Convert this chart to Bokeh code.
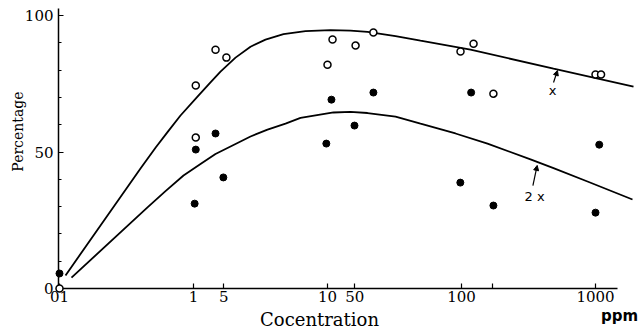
import math
from bokeh.plotting import figure
from bokeh.models import FixedTicker, Arrow, NormalHead, Range1d
from bokeh.core.properties import value
from bokeh.embed import file_html
from bokeh.resources import INLINE

# fitted curve "x"
curve_x_conc = [0.1109, 0.2023, 0.4022, 0.5205, 0.6397, 0.7997, 1.071, 1.339, 1.590, 2.058,
                2.663, 3.445, 4.694, 6.852, 10.53, 14.85, 19.89, 32.18, 49.43, 116.7, 486, 1921]
curve_x_pct = [4.8, 23.1, 44.0, 51.6, 57.3, 63.4, 70.3, 75.5, 79.5, 84.6,
               88.6, 91.2, 93.2, 94.3, 94.7, 94.5, 94.0, 92.5, 90.8, 87.5, 80.6, 74.0]
# fitted curve "2x"
curve_2x_conc = [0.1229, 0.4536, 0.618, 0.842, 1.128, 1.459, 1.989, 2.663, 3.566, 4.860, 6.287,
                 11.09, 14.85, 19.89, 32.18, 49.43, 90.2, 156.3, 327.3, 486, 871.3, 1888]
curve_2x_pct = [4.0, 29.7, 35.7, 41.4, 45.6, 49.3, 52.6, 55.7, 58.2, 60.4, 62.5,
                64.5, 64.7, 64.3, 63.0, 60.4, 56.8, 53.1, 47.3, 44.1, 39.2, 32.6]

# open circles
open_conc = [0.1, 1.04, 1.04, 1.46, 1.76, 10.0, 10.9, 16.2, 22.0, 98.3, 123, 173, 1000, 1100]
open_pct = [0.0, 55.3, 74.4, 87.5, 84.6, 82.0, 91.2, 89.0, 93.8, 86.8, 89.7, 71.4, 78.4, 78.4]
# filled circles
filled_conc = [0.1, 1.02, 1.04, 1.46, 1.67, 9.8, 10.7, 15.9, 22.0, 98.0, 118, 173, 1000, 1066]
filled_pct = [5.5, 31.1, 50.9, 56.8, 40.7, 53.1, 69.2, 59.7, 71.8, 38.8, 71.8, 30.4, 27.8, 52.7]

x_tick_values = [0.1, 1, 1.68, 10, 16.0, 100, 170, 1000]
x_tick_labels = ["01", "1", "5", "10", "50", "100", "", "1000"]
y_tick_values = [0, 50, 100]
y_tick_labels = ["0", "50", "100"]
y_minor_ticks = [10, 20, 30, 40, 60, 70, 80, 90]

SERIF = "DejaVu Serif"
SANS = "DejaVu Sans"

p = figure(width=644, height=329, x_axis_type="log",
           x_range=Range1d(0.0983, 1459), y_range=Range1d(0, 102.6),
           output_backend="svg", toolbar_location=None,
           min_border_left=58, min_border_right=27, min_border_top=8, min_border_bottom=41)
p.outline_line_color = None
p.xgrid.visible = False
p.ygrid.visible = False
p.background_fill_color = "white"
p.border_fill_color = "white"

p.line(curve_x_conc, curve_x_pct, line_color="black", line_width=1.8, level="overlay")
p.line(curve_2x_conc, curve_2x_pct, line_color="black", line_width=1.8, level="overlay")

p.scatter(open_conc, open_pct, marker="circle", size=7, fill_color="white",
          line_color="black", line_width=1.5, level="overlay")
p.scatter(filled_conc, filled_pct, marker="circle", size=7, fill_color="black",
          line_color="black", line_width=1, level="overlay")

xa = p.xaxis[0]
xa.ticker = FixedTicker(ticks=x_tick_values, minor_ticks=[])
xa.major_label_overrides = {v: l for v, l in zip(x_tick_values, x_tick_labels)}
ya = p.yaxis[0]
ya.ticker = FixedTicker(ticks=y_tick_values, minor_ticks=y_minor_ticks)
ya.major_label_overrides = {v: l for v, l in zip(y_tick_values, y_tick_labels)}
for ax in (xa, ya):
    ax.axis_line_color = "black"
    ax.axis_line_width = 1.5
    ax.major_tick_line_color = "black"
    ax.major_tick_line_width = 1.2
    ax.minor_tick_line_color = "black"
    ax.major_tick_in = 5
    ax.major_tick_out = 0
    ax.minor_tick_in = 3
    ax.minor_tick_out = 0
    ax.major_label_text_font = SERIF
    ax.major_label_text_font_size = "15px"
    ax.major_label_text_color = "black"
xa.major_label_standoff = 2
ya.major_label_standoff = 5

# axis titles (overlay text glyphs so they may sit outside the frame)
p.text(x=[8.72], y=[-11.2], text=["Cocentration"], text_font=value(SERIF),
       text_font_size="18px", text_align="center", text_baseline="middle",
       text_color="black", level="overlay")
p.text(x=[0.0486], y=[57.5], text=["Percentage"], text_font=value(SERIF),
       text_font_size="14px", text_align="center", text_baseline="middle",
       angle=math.pi / 2, text_color="black", level="overlay")
p.text(x=[1511], y=[-9.9], text=["ppm"], text_font=value(SANS), text_font_style="bold",
       text_font_size="15px", text_align="center", text_baseline="middle",
       text_color="black", level="overlay")

# curve annotations
p.text(x=[478], y=[72.5], text=["x"], text_font=value(SANS), text_font_size="13px",
       text_align="center", text_baseline="middle", text_color="black", level="overlay")
p.add_layout(Arrow(x_start=486, y_start=75.5, x_end=520, y_end=79.9,
                   line_color="black", line_width=1.2,
                   end=NormalHead(size=5, fill_color="black", line_color="black")))
p.text(x=[351], y=[33.7], text=["2 x"], text_font=value(SANS), text_font_size="13px",
       text_align="center", text_baseline="middle", text_color="black", level="overlay")
p.add_layout(Arrow(x_start=341, y_start=37.7, x_end=367, y_end=45.1,
                   line_color="black", line_width=1.2,
                   end=NormalHead(size=5, fill_color="black", line_color="black")))

open("out.html", "w").write(file_html(p, INLINE))
